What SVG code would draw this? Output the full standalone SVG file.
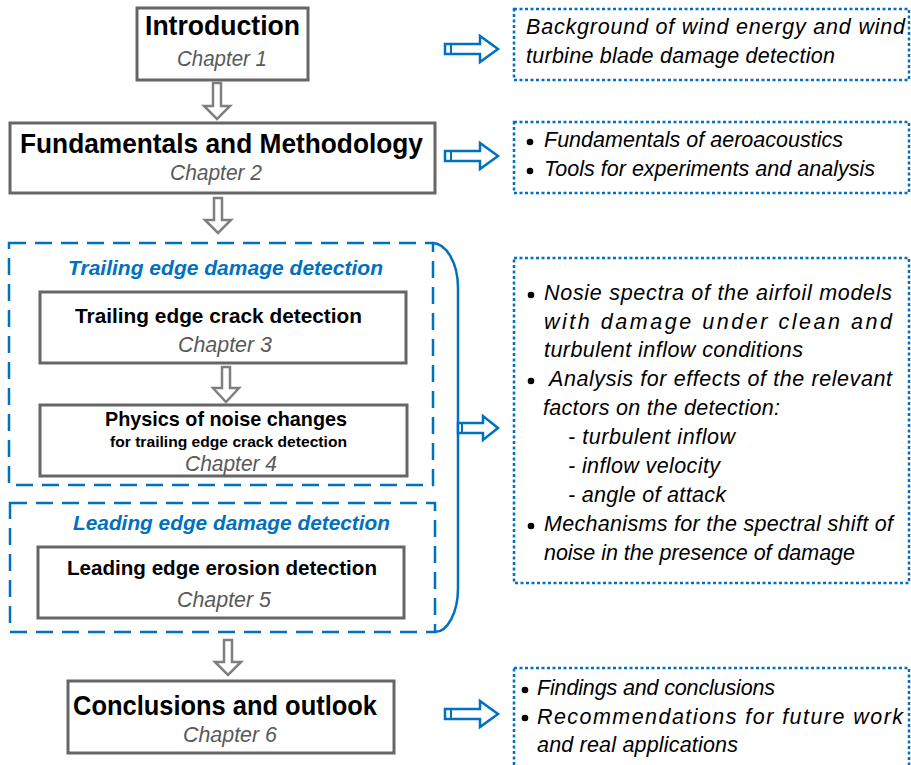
<svg xmlns="http://www.w3.org/2000/svg" width="911" height="765" viewBox="0 0 911 765">
<style>
.box{fill:#fff;stroke:#666;stroke-width:3}
.grp{fill:none;stroke:#0070C0;stroke-width:2.5;stroke-dasharray:17 9}
.dot{fill:#fff;stroke:#0070C0;stroke-width:2.5;stroke-dasharray:3 2.5}
.darr{fill:#fff;stroke:#7f7f7f;stroke-width:2.5;stroke-linejoin:miter}
.rarr{fill:#fff;stroke:#0070C0;stroke-width:2.5}
.h{font-family:"Liberation Sans",Arial,sans-serif;font-weight:bold;fill:#000}
.ch{font-family:"Liberation Sans",Arial,sans-serif;font-style:italic;fill:#595959;font-size:21.5px}
.gt{font-family:"Liberation Sans",Arial,sans-serif;font-style:italic;font-weight:bold;fill:#0070C0;font-size:21px}
.t{font-family:"Liberation Sans",Arial,sans-serif;font-style:italic;fill:#000;font-size:21.5px}
</style>
<rect width="911" height="765" fill="#fff"/>
<g id="group-trailing">
<rect class="grp" x="9" y="243" width="424" height="242"/>
<text class="gt" x="68" y="275" textLength="315" lengthAdjust="spacingAndGlyphs">Trailing edge damage detection</text>
</g>
<g id="group-leading">
<rect class="grp" x="10" y="503" width="425" height="129"/>
<text class="gt" x="73" y="530" textLength="317" lengthAdjust="spacingAndGlyphs">Leading edge damage detection</text>
</g>
<g id="ch1">
<rect class="box" x="137" y="8" width="171" height="72"/>
<text class="h" x="145" y="35" font-size="27" textLength="155" lengthAdjust="spacingAndGlyphs">Introduction</text>
<text class="ch" x="177" y="66" textLength="90" lengthAdjust="spacingAndGlyphs">Chapter 1</text>
</g>
<g id="ch2">
<rect class="box" x="10" y="123" width="425" height="70"/>
<text class="h" x="20" y="153" font-size="27" textLength="403" lengthAdjust="spacingAndGlyphs">Fundamentals and Methodology</text>
<text class="ch" x="170" y="180" textLength="92" lengthAdjust="spacingAndGlyphs">Chapter 2</text>
</g>
<g id="ch3">
<rect class="box" x="40" y="292" width="366" height="71"/>
<text class="h" x="75" y="323" font-size="21" textLength="287" lengthAdjust="spacingAndGlyphs">Trailing edge crack detection</text>
<text class="ch" x="178" y="352" textLength="94" lengthAdjust="spacingAndGlyphs">Chapter 3</text>
</g>
<g id="ch4">
<rect class="box" x="40" y="405" width="367" height="71"/>
<text class="h" x="105" y="426" font-size="21" textLength="242" lengthAdjust="spacingAndGlyphs">Physics of noise changes</text>
<text class="h" x="110" y="447" font-size="15" textLength="237" lengthAdjust="spacingAndGlyphs">for trailing edge crack detection</text>
<text class="ch" x="185" y="471" textLength="92" lengthAdjust="spacingAndGlyphs">Chapter 4</text>
</g>
<g id="ch5">
<rect class="box" x="38" y="547" width="366" height="71"/>
<text class="h" x="67" y="575" font-size="21" textLength="310" lengthAdjust="spacingAndGlyphs">Leading edge erosion detection</text>
<text class="ch" x="177" y="607" textLength="94" lengthAdjust="spacingAndGlyphs">Chapter 5</text>
</g>
<g id="ch6">
<rect class="box" x="68" y="681" width="326" height="72"/>
<text class="h" x="73" y="715" font-size="27" textLength="304" lengthAdjust="spacingAndGlyphs">Conclusions and outlook</text>
<text class="ch" x="183" y="742" textLength="94" lengthAdjust="spacingAndGlyphs">Chapter 6</text>
</g>
<g id="note1">
<rect class="dot" x="514" y="9" width="395" height="71"/>
<text class="t" x="526" y="34" textLength="379" lengthAdjust="spacing">Background of wind energy and wind</text>
<text class="t" x="526" y="63" textLength="309" lengthAdjust="spacing">turbine blade damage detection</text>
</g>
<g id="note2">
<rect class="dot" x="514" y="122" width="395" height="71"/>
<circle cx="530" cy="142" r="3.3"/>
<circle cx="530" cy="171" r="3.3"/>
<text class="t" x="544" y="147" textLength="299" lengthAdjust="spacing">Fundamentals of aeroacoustics</text>
<text class="t" x="544" y="176" textLength="331" lengthAdjust="spacing">Tools for experiments and analysis</text>
</g>
<g id="note3">
<rect class="dot" x="514" y="258" width="395" height="325"/>
<circle cx="531" cy="295" r="3.3"/>
<circle cx="531" cy="381" r="3.3"/>
<circle cx="531" cy="526" r="3.3"/>
<text class="t" x="544" y="300" textLength="348" lengthAdjust="spacing">Nosie spectra of the airfoil models</text>
<text class="t" x="544" y="329" textLength="348" lengthAdjust="spacing">with damage under clean and</text>
<text class="t" x="544" y="357" textLength="259" lengthAdjust="spacing">turbulent inflow conditions</text>
<text class="t" x="549" y="386" textLength="343" lengthAdjust="spacing">Analysis for effects of the relevant</text>
<text class="t" x="543" y="415" textLength="237" lengthAdjust="spacing">factors on the detection:</text>
<text class="t" x="568" y="444" textLength="167" lengthAdjust="spacing">- turbulent inflow</text>
<text class="t" x="568" y="473" textLength="152" lengthAdjust="spacing">- inflow velocity</text>
<text class="t" x="568" y="502" textLength="158" lengthAdjust="spacing">- angle of attack</text>
<text class="t" x="544" y="531" textLength="349" lengthAdjust="spacing">Mechanisms for the spectral shift of</text>
<text class="t" x="544" y="560" textLength="311" lengthAdjust="spacing">noise in the presence of damage</text>
</g>
<g id="note4">
<rect class="dot" x="514" y="668" width="395" height="110"/>
<circle cx="525" cy="690" r="3.3"/>
<circle cx="525" cy="718" r="3.3"/>
<text class="t" x="537" y="695" textLength="238" lengthAdjust="spacing">Findings and conclusions</text>
<text class="t" x="537" y="724" textLength="366" lengthAdjust="spacing">Recommendations for future work</text>
<text class="t" x="537" y="752" textLength="201" lengthAdjust="spacing">and real applications</text>
</g>
<g id="connectors">
<path d="M432,243 A26,45 0 0 1 458,288 L458,588 A23,44 0 0 1 435,632" fill="none" stroke="#0070C0" stroke-width="2.5"/>
<polygon class="darr" points="213,83 221,83 221,106 230,106 217,119 204,106 213,106"/>
<polygon class="darr" points="214,198 222,198 222,220 231,220 218,233 205,220 214,220"/>
<polygon class="darr" points="222,367 230,367 230,388 239,388 226,402 213,388 222,388"/>
<polygon class="darr" points="224,640 232,640 232,662 241,662 228,675 215,662 224,662"/>
<polygon class="rarr" points="445,44 480,44 480,36 498,49 480,62 480,54 445,54"/>
<line x1="451" y1="44" x2="451" y2="54" stroke="#0070C0" stroke-width="2"/>
<polygon class="rarr" points="445,151 480,151 480,143 498,156 480,169 480,161 445,161"/>
<line x1="451" y1="151" x2="451" y2="161" stroke="#0070C0" stroke-width="2"/>
<polygon class="rarr" points="458,423 483,423 483,416 498,428 483,440 483,433 458,433"/>
<line x1="462" y1="423" x2="462" y2="433" stroke="#0070C0" stroke-width="2"/>
<polygon class="rarr" points="445,709 480,709 480,701 498,714 480,727 480,719 445,719"/>
<line x1="451" y1="709" x2="451" y2="719" stroke="#0070C0" stroke-width="2"/>
</g>
</svg>
